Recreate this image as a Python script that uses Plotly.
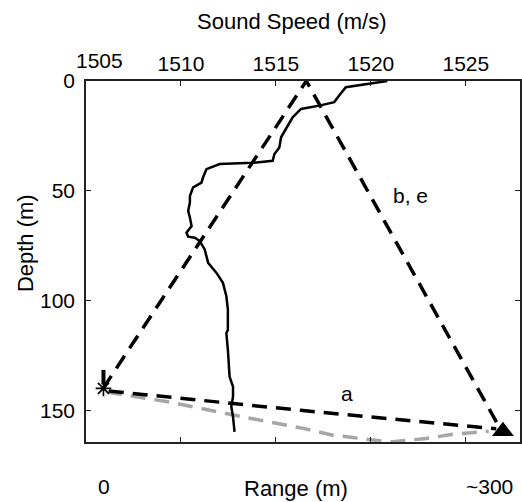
import plotly.graph_objects as go

# ---- data ----
profile_speed = [1520.86, 1519.90, 1518.68, 1518.33, 1518.07, 1517.28, 1516.32, 1515.88,
                 1515.62, 1515.45, 1515.27, 1515.18, 1514.92, 1514.83, 1513.78, 1512.04,
                 1511.34, 1511.16, 1511.08, 1510.64, 1510.47, 1510.47, 1510.38, 1510.47,
                 1510.56, 1510.29, 1510.38, 1510.73, 1510.99, 1511.25, 1511.43, 1511.87,
                 1512.21, 1512.39, 1512.47, 1512.47, 1512.39, 1512.47, 1512.56, 1512.74,
                 1512.74, 1512.65, 1512.74, 1512.82]
profile_depth = [0.0, 1.3, 2.8, 6.6, 9.6, 11.2, 12.7, 16.5,
                 20.3, 23.3, 25.6, 30.2, 33.2, 36.3, 37.2, 37.8,
                 40.1, 43.9, 46.2, 48.4, 52.3, 55.3, 59.1, 62.1,
                 66.0, 69.0, 70.8, 71.3, 72.8, 76.6, 82.7, 87.3,
                 91.8, 97.9, 104.0, 113.2, 114.7, 122.3, 134.5, 139.0,
                 143.6, 148.2, 152.7, 159.6]

ray_be_speed = [1505.9, 1516.6, 1526.7]
ray_be_depth = [139.8, 0.0, 156.5]

ray_a_speed = [1506.2, 1516.3, 1526.6]
ray_a_depth = [141.0, 149.8, 158.2]

ray_grey_speed = [1506.1, 1509.3, 1513.7, 1516.5, 1518.0, 1521.0, 1522.9, 1524.4, 1526.2]
ray_grey_depth = [141.5, 145.9, 153.5, 158.1, 161.1, 164.2, 162.6, 160.6, 159.3]

source_speed = [1505.92]
source_depth = [139.8]
source_bar_depth = [131.4, 138.0]

receiver_speed = [1526.95]
receiver_depth = [159.3]

x_ticks = [1505, 1510, 1515, 1520, 1525]
x_ticktext = ["", "1510", "1515", "1520", "1525"]   # 1505 is drawn as an offset label
first_x_label = "1505"
y_ticks = [0, 50, 100, 150]
x_range = [1505, 1527.85]
y_range = [164.2, 0]

FONT = "Liberation Sans, Arial, Helvetica, sans-serif"
DASH = "15px,9px"

fig = go.Figure()
fig.add_trace(go.Scatter(x=ray_grey_speed, y=ray_grey_depth, mode="lines",
                         line=dict(color="#a6a6a6", width=3.5, dash=DASH), hoverinfo="skip"))
fig.add_trace(go.Scatter(x=ray_a_speed, y=ray_a_depth, mode="lines",
                         line=dict(color="black", width=3.5, dash=DASH), hoverinfo="skip"))
fig.add_trace(go.Scatter(x=ray_be_speed, y=ray_be_depth, mode="lines",
                         line=dict(color="black", width=3.5, dash=DASH), hoverinfo="skip"))
fig.add_trace(go.Scatter(x=profile_speed, y=profile_depth, mode="lines",
                         line=dict(color="black", width=2.5), hoverinfo="skip"))
fig.add_trace(go.Scatter(x=source_speed * 2, y=source_bar_depth, mode="lines",
                         line=dict(color="black", width=4), hoverinfo="skip"))
fig.add_trace(go.Scatter(x=source_speed, y=source_depth, mode="markers",
                         marker=dict(symbol="asterisk-open", size=13, color="black",
                                     line=dict(color="black", width=1.6)), hoverinfo="skip"))
fig.add_trace(go.Scatter(x=receiver_speed, y=receiver_depth, mode="markers",
                         marker=dict(symbol="triangle-up", size=19, color="black"),
                         hoverinfo="skip"))

axis_common = dict(ticks="inside", ticklen=5, tickcolor="#222", showline=True,
                   linecolor="#222", linewidth=1.5, mirror="ticks", showgrid=False,
                   zeroline=False, tickfont=dict(family=FONT, size=21, color="black"))

fig.update_xaxes(side="top", range=x_range, tickvals=x_ticks, ticktext=x_ticktext,
                 **axis_common)
fig.update_yaxes(range=y_range, tickvals=y_ticks, ticklabelstandoff=5, **axis_common)

annots = [
    dict(text=first_x_label, x=0.031, y=1.056, xref="paper", yref="paper", size=21),
    dict(text="a", x=1518.76, y=142.0, xref="x", yref="y", size=21),
    dict(text="b, e", x=1522.06, y=52.1, xref="x", yref="y", size=21),
    dict(text="0", x=0.042, y=-0.123, xref="paper", yref="paper", size=21),
    dict(text="Range (m)", x=0.484, y=-0.128, xref="paper", yref="paper", size=22),
    dict(text="~300", x=0.93, y=-0.123, xref="paper", yref="paper", size=21),
    dict(text="Sound Speed (m/s)", x=0.474, y=1.164, xref="paper", yref="paper", size=22),
]
for a in annots:
    fig.add_annotation(text=a["text"], x=a["x"], y=a["y"], xref=a["xref"], yref=a["yref"],
                       showarrow=False, xanchor="center", yanchor="middle",
                       font=dict(family=FONT, size=a["size"], color="black"))
fig.add_annotation(text="Depth (m)", x=-0.139, y=0.55, xref="paper", yref="paper",
                   showarrow=False, textangle=-90, xanchor="center", yanchor="middle",
                   font=dict(family=FONT, size=22, color="black"))

fig.update_layout(width=522, height=502, margin=dict(l=86, r=0, t=81, b=60),
                  paper_bgcolor="white", plot_bgcolor="white", showlegend=False)

fig.write_html("out.html")
